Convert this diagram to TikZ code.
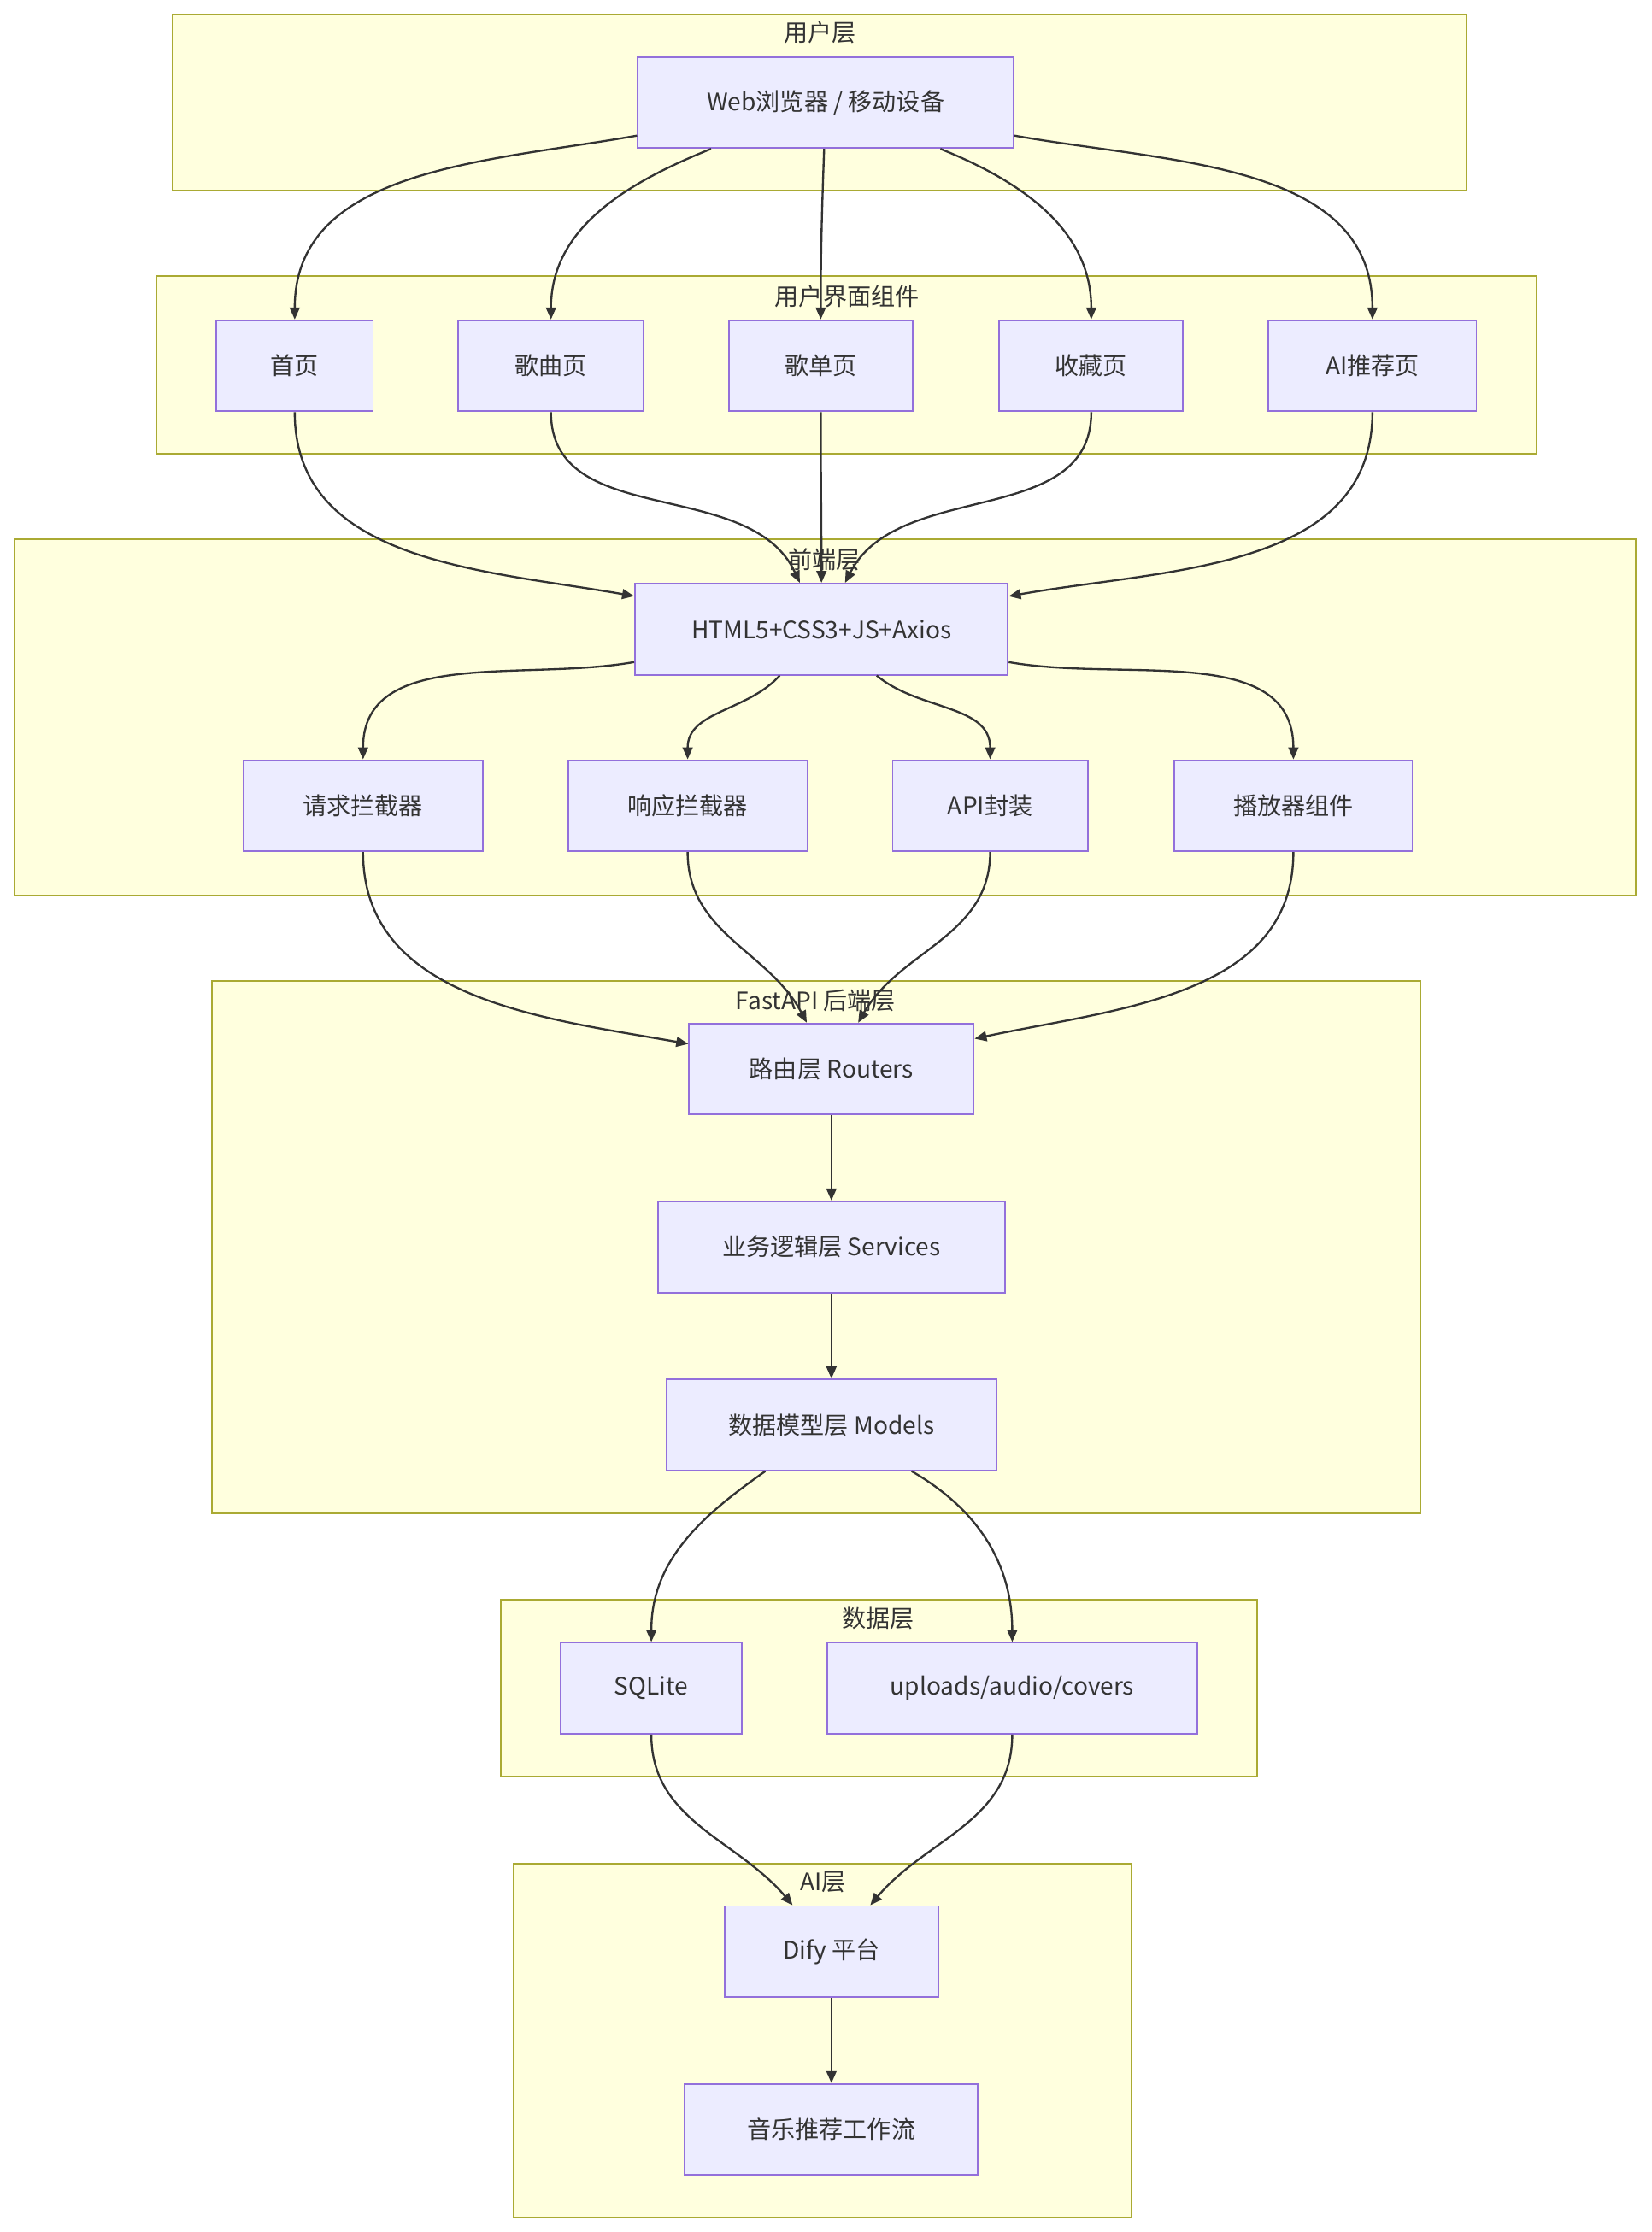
\documentclass[tikz,border=0pt]{standalone}
\usepackage{fontspec}
\setmainfont{Noto Sans CJK SC}
\usetikzlibrary{arrows.meta}
\definecolor{clfill}{HTML}{FFFFDE}
\definecolor{cldraw}{HTML}{AAAA33}
\definecolor{ndfill}{HTML}{ECECFF}
\definecolor{nddraw}{HTML}{9370DB}
\definecolor{ink}{HTML}{333333}
\tikzset{
  box/.style={draw=nddraw, fill=ndfill, line width=1.6pt, inner sep=0pt,
    minimum height=3.2cm, text=ink, font=\fontsize{24}{28}\selectfont},
  layer/.style={draw=cldraw, fill=clfill, line width=1.6pt},
  layertitle/.style={text=ink, font=\fontsize{24}{28}\selectfont, anchor=center},
  edge/.style={draw=ink, line width=2pt, -{Triangle[length=12pt,width=10pt]}}
}
\begin{document}
\begin{tikzpicture}[x=0.05cm,y=0.05cm]
\useasboundingbox (0,0) rectangle (1160,-1568);
% layers
\draw[layer] (121,-10) rectangle (1030,-134);
\node[layertitle] (tuser) at (576,-23) {用户层};
\draw[layer] (110,-194) rectangle (1079,-319);
\node[layertitle] (tui) at (595,-208) {用户界面组件};
\draw[layer] (10,-379) rectangle (1149,-629);
\node[layertitle] (tfront) at (579,-393) {前端层};
\draw[layer] (149,-689) rectangle (998,-1063);
\node[layertitle] (tback) at (573,-703) {FastAPI 后端层};
\draw[layer] (352,-1124) rectangle (883,-1248);
\node[layertitle] (tdata) at (617,-1137) {数据层};
\draw[layer] (361,-1309) rectangle (795,-1558);
\node[layertitle] (tai) at (578,-1322) {AI层};
% nodes
\node[box, minimum width=13.2cm] (web) at (580,-72) {Web浏览器 / 移动设备};
\node[box, minimum width=5.5cm] (home) at (207,-257) {首页};
\node[box, minimum width=6.5cm] (song) at (387,-257) {歌曲页};
\node[box, minimum width=6.45cm] (plist) at (576.5,-257) {歌单页};
\node[box, minimum width=6.45cm] (fav) at (766.5,-257) {收藏页};
\node[box, minimum width=7.3cm] (airec) at (964,-257) {AI推荐页};
\node[box, minimum width=13.1cm] (html) at (577,-442) {HTML5+CSS3+JS+Axios};
\node[box, minimum width=8.4cm] (reqi) at (255,-566) {请求拦截器};
\node[box, minimum width=8.4cm] (resi) at (483,-566) {响应拦截器};
\node[box, minimum width=6.85cm] (api) at (695.5,-566) {API封装};
\node[box, minimum width=8.35cm] (player) at (908.5,-566) {播放器组件};
\node[box, minimum width=10cm] (router) at (584,-751) {路由层 Routers};
\node[box, minimum width=12.2cm] (service) at (584,-876) {业务逻辑层 Services};
\node[box, minimum width=11.6cm] (model) at (584,-1001) {数据模型层 Models};
\node[box, minimum width=6.35cm] (sqlite) at (457.5,-1186) {SQLite};
\node[box, minimum width=13cm] (upload) at (711,-1186) {uploads/audio/covers};
\node[box, minimum width=7.5cm] (dify) at (584,-1371) {Dify 平台};
\node[box, minimum width=10.3cm] (flow) at (584,-1496) {音乐推荐工作流};
% connectors
\draw[edge] (web) to[out=190, in=90] (home);
\draw[edge] (web) to[out=202, in=90] (song);
\draw[edge] (web) to[out=268, in=90] (plist);
\draw[edge] (web) to[out=-22, in=90] (fav);
\draw[edge] (web) to[out=-10, in=90] (airec);
\draw[edge] (home) to[out=-90, in=170] (html);
\draw[edge] (song) to[out=-90, in=115] (html);
\draw[edge] (plist) to[out=-90, in=90] (html);
\draw[edge] (fav) to[out=-90, in=63] (html);
\draw[edge] (airec) to[out=-90, in=10] (html);
\draw[edge] (html) to[out=190, in=90] (reqi);
\draw[edge] (html) to[out=228, in=90] (resi);
\draw[edge] (html) to[out=-40, in=90] (api);
\draw[edge] (html) to[out=-10, in=90] (player);
\draw[edge] (reqi) to[out=-90, in=170] (router);
\draw[edge] (resi) to[out=-90, in=118] (router);
\draw[edge] (api) to[out=-90, in=60] (router);
\draw[edge] (player) to[out=-90, in=12] (router);
\draw[edge] (router) -- (service);
\draw[edge] (service) -- (model);
\draw[edge] (model) to[out=215, in=90] (sqlite);
\draw[edge] (model) to[out=-30, in=90] (upload);
\draw[edge] (sqlite) to[out=-90, in=130] (dify);
\draw[edge] (upload) to[out=-90, in=50] (dify);
\draw[edge] (dify) -- (flow);
\end{tikzpicture}
\end{document}
